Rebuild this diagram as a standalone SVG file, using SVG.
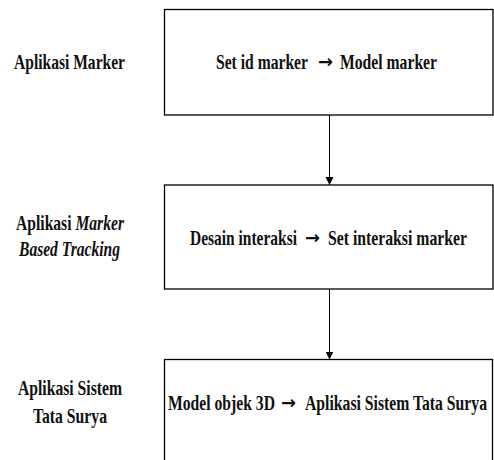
<svg xmlns="http://www.w3.org/2000/svg" width="494" height="460" viewBox="0 0 494 460">
<style>
.box{fill:#fff;stroke:#000;stroke-width:1.3}
.t{font-family:"Liberation Serif","Times New Roman",serif;font-weight:bold;font-size:21px;fill:#111}
.i{font-style:italic}
.a{font-family:"DejaVu Sans",sans-serif;font-weight:bold;font-size:18px;fill:#111}
.c{stroke:#000;stroke-width:1;fill:none}
</style>
<defs>
<marker id="ah" viewBox="0 0 10 10" refX="10" refY="5" markerWidth="8" markerHeight="9" markerUnits="userSpaceOnUse" orient="auto">
<path d="M0,0 L10,5 L0,10 Z" fill="#000"/>
</marker>
</defs>
<rect width="494" height="460" fill="#fff"/>
<g id="label1"><text class="t" x="14" y="69" textLength="111" lengthAdjust="spacingAndGlyphs">Aplikasi Marker</text></g>
<g id="label2">
<text class="t" x="16" y="230" textLength="108" lengthAdjust="spacingAndGlyphs">Aplikasi <tspan class="i">Marker</tspan></text>
<text class="t i" x="19" y="256" textLength="101" lengthAdjust="spacingAndGlyphs">Based Tracking</text>
</g>
<g id="label3">
<text class="t" x="18" y="395" textLength="104" lengthAdjust="spacingAndGlyphs">Aplikasi Sistem</text>
<text class="t" x="33" y="423" textLength="74" lengthAdjust="spacingAndGlyphs">Tata Surya</text>
</g>
<g id="node1">
<rect class="box" x="164.5" y="9.5" width="328.5" height="105.5"/>
<text class="t" x="216" y="69" textLength="92" lengthAdjust="spacingAndGlyphs">Set id marker</text>
<text class="a" x="318" y="68" textLength="15" lengthAdjust="spacingAndGlyphs">→</text>
<text class="t" x="340" y="69" textLength="97" lengthAdjust="spacingAndGlyphs">Model marker</text>
</g>
<g id="node2">
<rect class="box" x="164.5" y="185" width="328.5" height="104"/>
<text class="t" x="190" y="245" textLength="107" lengthAdjust="spacingAndGlyphs">Desain interaksi</text>
<text class="a" x="305" y="244" textLength="15" lengthAdjust="spacingAndGlyphs">→</text>
<text class="t" x="328" y="245" textLength="139" lengthAdjust="spacingAndGlyphs">Set interaksi marker</text>
</g>
<g id="node3">
<rect class="box" x="164.5" y="359.5" width="328" height="110"/>
<text class="t" x="168" y="410" textLength="107" lengthAdjust="spacingAndGlyphs">Model objek 3D</text>
<text class="a" x="281" y="409" textLength="15" lengthAdjust="spacingAndGlyphs">→</text>
<text class="t" x="305" y="410" textLength="182" lengthAdjust="spacingAndGlyphs">Aplikasi Sistem Tata Surya</text>
</g>
<g id="connectors">
<line class="c" x1="329.5" y1="115" x2="329.5" y2="185" marker-end="url(#ah)"/>
<line class="c" x1="329.5" y1="289" x2="329.5" y2="359.5" marker-end="url(#ah)"/>
</g>
</svg>
